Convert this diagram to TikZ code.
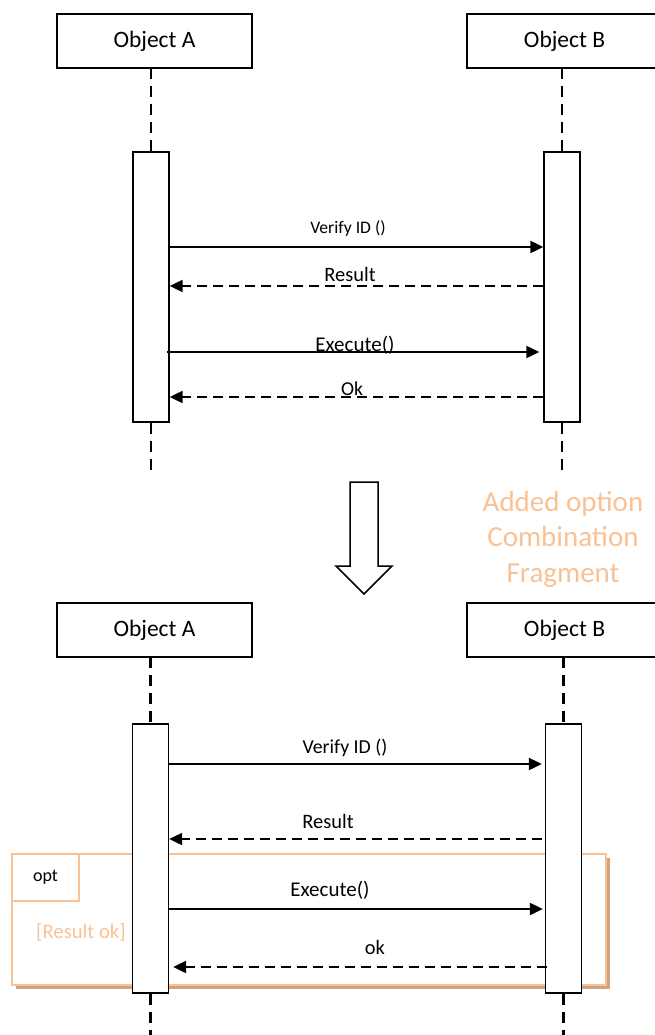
\documentclass[tikz,border=0pt]{standalone}
\usepackage{fontspec}
\setmainfont{Carlito}
\usepackage{tikz}
\usetikzlibrary{positioning}
\usetikzlibrary{arrows.meta,shadows}

\definecolor{fragorange}{RGB}{249,194,148}
\definecolor{fragshadow}{RGB}{208,162,126}

\tikzset{
    objbox/.style={draw, line width=1.3pt, minimum width=195pt, minimum height=54pt, font=\fontsize{23.5}{28}\selectfont},
    actbox/.style={draw, fill=white, line width=1.3pt, minimum width=36pt, minimum height=270pt},
    lifeline/.style={line width=2.5pt, dash pattern=on 11pt off 7pt},
    callmsg/.style={line width=2pt, -{Triangle[length=13pt,width=12pt]}},
    replymsg/.style={callmsg, dash pattern=on 10pt off 6pt},
    lbl/.style={anchor=base, inner sep=0pt, font=\fontsize{20.5}{24}\selectfont},
}

\begin{document}
\begin{tikzpicture}[x=1pt,y=-1pt]
\useasboundingbox (0,0) rectangle (654,1035);

% before
\node[objbox] (objA) at (154.5,41) {Object A};
\node[objbox] (objB) at (564.5,41) {Object B};
\coordinate (endA) at (151,472);
\coordinate (endB) at (562,470);
\draw[lifeline] (151,68) -- (151,152);
\draw[lifeline] (562,68) -- (562,152);
\node[actbox] (actA) at (151,287) {};
\node[actbox] (actB) at (562,287) {};
\draw[lifeline] (actA.south) -- (endA);
\draw[lifeline] (actB.south) -- (endB);

\draw[callmsg] (actA.east |- 0,247) -- (actB.west |- 0,247);
\draw[replymsg] (actB.west |- 0,286) -- (actA.east |- 0,286);
\draw[callmsg, shorten <=-3pt, shorten >=4pt] (actA.east |- 0,352) -- (actB.west |- 0,352);
\draw[replymsg] (actB.west |- 0,397) -- (actA.east |- 0,397);
\node[lbl, font=\fontsize{17.6}{20}\selectfont] (verify) at (348,233) {Verify ID ()};
\node[lbl] (result) at (350,281) {Result};
\node[lbl, font=\fontsize{21}{24}\selectfont] (execute) at (355,351) {Execute()};
\node[lbl, font=\fontsize{19.7}{24}\selectfont] (okA) at (352,395) {Ok};

% transition
\draw[line width=1.5pt] (350,482) -- (378,482) -- (378,566) -- (392,566) -- (364,594) -- (336,566) -- (350,566) -- cycle;
\node[align=center, text=fragorange, font=\fontsize{29}{35.5}\selectfont] (caption) at (563,539) {Added option\\Combination\\Fragment};

% after
\node[draw=fragorange, fill=white, line width=1.5pt, minimum width=594pt, minimum height=131pt,
      drop shadow={shadow xshift=3.5pt, shadow yshift=-4pt, fill=fragshadow, opacity=1}] (optFrag) at (309,919.5) {};
\node[draw=fragorange, line width=1.5pt, minimum width=67pt, minimum height=47pt, anchor=north west,
      font=\fontsize{18}{20}\selectfont] (optTab) at (optFrag.north west) {opt};
\node[lbl, text=fragorange, font=\fontsize{20.7}{24}\selectfont] (guard) at (81,938) {[Result ok]};

\node[objbox] (objA2) at (154.5,630) {Object A};
\node[objbox] (objB2) at (564.5,630) {Object B};
\coordinate (endA2) at (150.5,1045);
\coordinate (endB2) at (563.5,1045);
\draw[lifeline] (150.5,657) -- (150.5,724);
\draw[lifeline] (563.5,657) -- (563.5,724);
\node[actbox, minimum height=269pt] (actA2) at (150.5,858.5) {};
\node[actbox, minimum height=269pt] (actB2) at (563.5,858.5) {};
\draw[lifeline] (actA2.south) -- (endA2);
\draw[lifeline] (actB2.south) -- (endB2);

\draw[callmsg, shorten >=3pt] (actA2.east |- 0,764) -- (actB2.west |- 0,764);
\draw[replymsg, shorten <=3pt] (actB2.west |- 0,839) -- (actA2.east |- 0,839);
\draw[callmsg, shorten >=2pt] (actA2.east |- 0,909) -- (actB2.west |- 0,909);
\draw[replymsg, shorten <=-2pt, shorten >=4pt] (actB2.west |- 0,967) -- (actA2.east |- 0,967);
\node[lbl, font=\fontsize{19.8}{24}\selectfont] (verify2) at (345,753) {Verify ID ()};
\node[lbl] (result2) at (328,828) {Result};
\node[lbl, font=\fontsize{21}{24}\selectfont] (execute2) at (330,896) {Execute()};
\node[lbl, font=\fontsize{20.4}{24}\selectfont] (okB) at (375,954) {ok};
\end{tikzpicture}
\end{document}
